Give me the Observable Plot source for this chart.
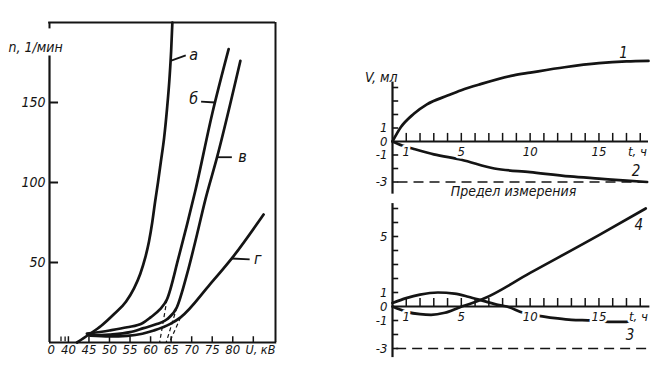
<!DOCTYPE html>
<html><head><meta charset="utf-8">
<script src="https://cdn.jsdelivr.net/npm/d3@7"></script>
<script src="https://cdn.jsdelivr.net/npm/@observablehq/plot@0.6"></script>
<style>
html,body{margin:0;padding:0;background:#fff;}
#wrap{position:relative;width:664px;height:374px;overflow:hidden;background:#fff;}
#wrap svg{position:absolute;overflow:visible;}
</style></head><body><div id="wrap"></div>
<script>
// ---------- Left chart: n (1/мин) vs U (кВ) ----------
const curveA = [[42.1,0],[45,5],[48,10.5],[51,17.5],[54,25.5],[56,34],[57.5,43],[58.7,53],[59.6,63],[60.4,75],[61.1,88],[61.8,100],[62.5,113],[63.3,128],[64,146],[64.6,165],[65.0,182],[65.3,200]];
const curveB = [[44.5,5.5],[50,7.5],[54.3,9.5],[58,12],[60,15.7],[62.2,20.5],[64,27],[66.8,53],[68.9,74],[70.9,95],[75,143],[79,183.4]];
const curveV = [[45,4.5],[50,5],[55,6.5],[58.3,9],[61.5,11.5],[64,14.5],[66.4,22],[68.9,43],[71.3,67.5],[73.3,89],[76.2,116],[81.85,176]];
const curveG = [[45.4,4.3],[50,3.8],[54.3,4.2],[58,5.5],[60.8,7.5],[64.8,11.6],[67.3,15.7],[74.5,36.5],[80.2,54],[87.5,80]];
const kneeIntercepts = [62.2, 63.8, 64.6]; // dashed extrapolations of б, в, г to n = 0
const uTicks = [40,45,50,55,60,65,70,75,80,85];
const uTickLabels = [40,45,50,55,60,65,70,75,80];
const nTicks = [50,100,150];

// ---------- Right charts: V (мл) vs t (ч) ----------
const curve1 = [[0,0],[0.6,1.05],[1.55,2.05],[2.5,2.75],[4,3.4],[5,3.8],[6.4,4.25],[8.8,4.9],[10,5.1],[12.5,5.5],[15,5.8],[17,5.93],[18.6,5.97]];
const curve2 = [[0,0],[0.7,-0.3],[1.55,-0.55],[3,-0.95],[5,-1.35],[7.4,-2.0],[10,-2.27],[12.9,-2.59],[15,-2.75],[17,-2.9],[18.5,-3.0]];
const curve3 = [[0,0.25],[1,0.6],[2,0.85],[3.3,1.0],[4.5,0.92],[5.5,0.7],[6.6,0.4],[7.5,0.15],[8.3,0],[9.5,-0.45],[10.9,-0.7],[12,-0.85],[13,-0.95],[14.5,-1.0],[15.7,-1.1],[17,-1.1],[17.4,-1.0]];
const curve4 = [[0,0],[0.5,-0.2],[1.1,-0.4],[2,-0.55],[2.8,-0.6],[3.8,-0.45],[4.9,-0.05],[5.8,0.25],[6.6,0.55],[10,2.4],[15,5.1],[18.4,7.0]];
const limitV = -3;
const tTicks = [1,2,3,4,5,6,7,8,9,10,11,12,13,14,15,16,17,18];
const tTickLabels = [1,5,10,15];
const vTicksUpper = [-3,-2,-1,1,2,3,4];
const vLabelsUpper = [1,0,-1,-3];
const vTicksLower = [-3,-2,-1,1,2,3,4,5,6,7];
const vLabelsLower = [5,1,0,-1,-3];

const FONT = "'Liberation Sans Narrow','DejaVu Sans Condensed','Arial Narrow',sans-serif";
const INK = "#141414";
const style = {fontFamily: FONT, fontStyle: "italic", fontSize: "13px", color: INK, background: "transparent", overflow: "visible"};
const rows = pts => pts.map(([x, y]) => ({x, y}));
const fmt = v => String(v);
const lineOpts = {x: "x", y: "y", curve: "monotone-x", stroke: INK, strokeWidth: 2.7};
const halo = {stroke: "white", strokeWidth: 5, paintOrder: "stroke", fill: INK};

function uAt(pts, n) {
  for (let i = 1; i < pts.length; i++) {
    const [u0, n0] = pts[i-1], [u1, n1] = pts[i];
    if (n >= n0 && n <= n1) return u0 + (u1 - u0) * (n - n0) / (n1 - n0);
  }
  return pts[pts.length-1][0];
}
// label placement (in data offsets from the curve point)
const leftLabels = [
  {pts: curveA, text: "а", n: 176, lead: [3.7, 3.5], txt: [5.6, 4]},
  {pts: curveB, text: "б", n: 150, lead: [-3.4, 0.6], txt: [-5.2, 2.5]},
  {pts: curveV, text: "в", n: 115.8, lead: [3.6, 0], txt: [6.2, 0.4]},
  {pts: curveG, text: "г", n: 52.5, lead: [4.4, -0.6], txt: [6.4, 0]}
].map(d => { const u = uAt(d.pts, d.n); return {...d, u}; });

const knees = [curveB[6], curveV[6], curveG[6]].map((p, i) => ({x1: p[0], y1: p[1], x2: kneeIntercepts[i], y2: 0}));

const xDom = [35.4, 90.4], yDom = [0, 200];
const left = Plot.plot({
  width: 290, height: 374,
  marginLeft: 49, marginRight: 15, marginTop: 22, marginBottom: 32,
  x: {domain: xDom, axis: null}, y: {domain: yDom, axis: null},
  style,
  marks: [
    Plot.ruleY([yDom[1]], {x1: xDom[0] - 0.2, x2: xDom[1], stroke: INK, strokeWidth: 2}),
    Plot.ruleX([xDom[1]], {y1: 0, y2: yDom[1], stroke: INK, strokeWidth: 2}),
    Plot.ruleY([0], {x1: xDom[0], x2: xDom[1] + 0.3, stroke: INK, strokeWidth: 2}),
    Plot.ruleX([xDom[0]], {y1: 0, y2: 179, stroke: INK, strokeWidth: 2.2}),
    Plot.ruleX([xDom[0]], {y1: 196, y2: yDom[1], stroke: INK, strokeWidth: 2}),
    Plot.ruleX(uTicks, {y1: 0, y2: 3.6, stroke: INK, strokeWidth: 1.5}),
    Plot.ruleX([xDom[0] + 2.8, xDom[0] + 3.8], {y1: 0.5, y2: 3.5, stroke: INK, strokeWidth: 1.3}),
    Plot.ruleY(nTicks, {x1: xDom[0], x2: xDom[0] + 2.2, stroke: INK, strokeWidth: 2}),
    Plot.text(uTickLabels, {x: d => d, text: fmt, frameAnchor: "bottom", dy: 11}),
    Plot.text(["0"], {frameAnchor: "bottom-left", dx: -2, dy: 11}),
    Plot.text(["U, кВ"], {frameAnchor: "bottom-right", dx: -30, dy: 11, textAnchor: "start", fontSize: 12.5}),
    Plot.text(nTicks, {y: d => d, text: fmt, frameAnchor: "left", dx: -4, textAnchor: "end", fontSize: 14}),
    Plot.text(["n, 1/мин"], {frameAnchor: "top-left", dx: -41, dy: 20, textAnchor: "start", fontSize: 14}),
    Plot.link(knees, {x1: "x1", y1: "y1", x2: "x2", y2: "y2", stroke: INK, strokeWidth: 1.2, strokeDasharray: "4,3"}),
    Plot.line(rows(curveA), lineOpts),
    Plot.line(rows(curveB), lineOpts),
    Plot.line(rows(curveV), lineOpts),
    Plot.line(rows(curveG), lineOpts),
    Plot.link(leftLabels, {x1: "u", y1: "n", x2: d => d.u + d.lead[0], y2: d => d.n + d.lead[1], stroke: INK, strokeWidth: 1.8}),
    Plot.text(leftLabels, {x: d => d.u + d.txt[0], y: d => d.n + d.txt[1], text: "text", fontSize: 16})
  ]
});

const tDom = [0, 18.6];
const endOf = pts => pts[pts.length-1];
const upper = Plot.plot({
  width: 344, height: 205,
  marginLeft: 72, marginRight: 16, marginTop: 46.5, marginBottom: 10,
  x: {domain: tDom, axis: null}, y: {domain: [-4, 7], axis: null},
  style,
  marks: [
    Plot.ruleY([limitV], {x1: 0.4, x2: tDom[1], stroke: INK, strokeWidth: 1.6, strokeDasharray: "10,6"}),
    Plot.ruleY([0], {x1: 0, x2: tDom[1], stroke: INK, strokeWidth: 2}),
    Plot.ruleX([0], {y1: -3.9, y2: 4.4, stroke: INK, strokeWidth: 2.2}),
    Plot.ruleY(vTicksUpper, {x1: 0, x2: 0.45, stroke: INK, strokeWidth: 1.6}),
    Plot.ruleX(tTicks, {y1: 0, y2: 0.6, stroke: INK, strokeWidth: 1.5}),
    Plot.line(rows(curve1), lineOpts),
    Plot.line(rows(curve2), lineOpts),
    Plot.text(tTickLabels, {x: d => d, y: 0, text: fmt, dy: 10, ...halo}),
    Plot.text(["t, ч"], {x: tDom[1], y: 0, dx: -11, dy: 10, ...halo}),
    Plot.text(vLabelsUpper, {x: 0, y: d => d, text: fmt, dx: -5, textAnchor: "end"}),
    Plot.text(["V, мл"], {frameAnchor: "top-left", dx: 5, dy: 25.5, textAnchor: "end", fontSize: 14}),
    Plot.text([endOf(curve1)], {x: d => d[0], y: d => d[1], text: () => "1", dx: -25, dy: -8, fontSize: 15}),
    Plot.text([endOf(curve2)], {x: d => d[0], y: d => d[1], text: () => "2", dx: -11, dy: -11, fontSize: 15}),
    Plot.text(["Предел измерения"], {frameAnchor: "bottom", dx: -7, fontSize: 14, letterSpacing: "2.2px"})
  ]
});

const lower = Plot.plot({
  width: 344, height: 174,
  marginLeft: 72, marginRight: 16, marginTop: 1, marginBottom: 12,
  x: {domain: tDom, axis: null}, y: {domain: [-4, 7.5], axis: null},
  style,
  marks: [
    Plot.ruleY([limitV], {x1: 0.3, x2: tDom[1], stroke: INK, strokeWidth: 1.6, strokeDasharray: "10,6"}),
    Plot.ruleY([0], {x1: 0, x2: tDom[1] + 0.1, stroke: INK, strokeWidth: 2}),
    Plot.ruleX([0], {y1: -3.65, y2: 7.35, stroke: INK, strokeWidth: 2.2}),
    Plot.ruleY(vTicksLower, {x1: 0, x2: 0.45, stroke: INK, strokeWidth: 1.6}),
    Plot.ruleX(tTicks, {y1: 0, y2: 0.57, stroke: INK, strokeWidth: 1.5}),
    Plot.line(rows(curve3), lineOpts),
    Plot.line(rows(curve4), lineOpts),
    Plot.text(tTickLabels, {x: d => d, y: 0, text: fmt, dy: 10, ...halo}),
    Plot.text(["t, ч"], {x: tDom[1], y: 0, dx: -10, dy: 10, ...halo}),
    Plot.text(vLabelsLower, {x: 0, y: d => d, text: fmt, dx: -5, textAnchor: "end"}),
    Plot.text([endOf(curve4)], {x: d => d[0], y: d => d[1], text: () => "4", dx: -7, dy: 17, fontSize: 15}),
    Plot.text([endOf(curve3)], {x: d => d[0], y: d => d[1], text: () => "3", dx: -2, dy: 15, fontSize: 15})
  ]
});

const wrap = document.getElementById("wrap");
left.style.left = "0px"; left.style.top = "0px";
upper.style.left = "320px"; upper.style.top = "0px";
lower.style.left = "320px"; lower.style.top = "200px";
wrap.append(left, upper, lower);
</script></body></html>
